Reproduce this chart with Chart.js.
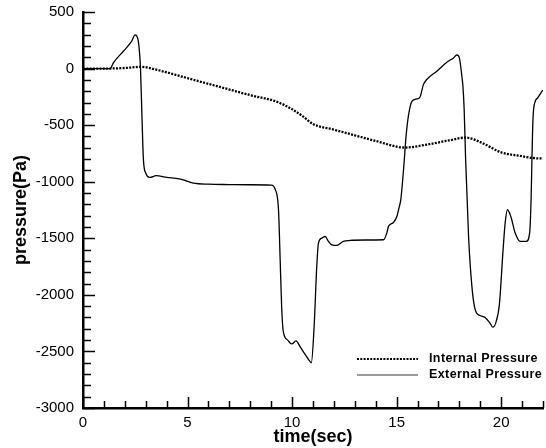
<!DOCTYPE html>
<html>
<head>
<meta charset="utf-8">
<script src="https://cdn.jsdelivr.net/npm/chart.js@4.4.1/dist/chart.umd.min.js"></script>
<style>
html, body { margin: 0; padding: 0; background: #fff; }
#wrap { width: 546px; height: 448px; }
</style>
</head>
<body>
<div id="wrap"><canvas id="chart1" width="546" height="448"></canvas></div>
<script>
// pressure traces (time in sec, pressure in Pa)
var extTime = [0, 1.3, 1.45, 1.93, 2.33, 2.49, 2.62, 2.7, 2.75, 2.81, 2.89, 3.0, 3.2, 3.5, 4.0, 4.6, 4.9, 5.28, 6.0, 7.0, 8.0, 9.0,
  9.2, 9.35, 9.43, 9.5, 9.58, 9.78, 9.98, 10.19, 10.38, 10.6, 10.86, 10.92, 11.05, 11.18, 11.26, 11.42, 11.58, 11.74, 11.9, 12.14,
  12.45, 12.78, 13.5, 14.37, 14.53, 14.61, 14.85, 15.01, 15.13, 15.2, 15.33, 15.45, 15.56, 15.73, 15.97, 16.12, 16.28, 16.44, 16.92,
  17.4, 17.72, 17.88, 18.0, 18.12, 18.17, 18.23, 18.3, 18.44, 18.6, 18.76, 18.99, 19.23, 19.47, 19.6, 19.76, 19.92, 20.08, 20.19,
  20.3, 20.46, 20.67, 20.91, 21.2, 21.36, 21.42, 21.52, 21.63, 21.74, 21.95, 22.0];
var extPressure = [0, 0, 50, 153, 242, 298, 265, 150, 0, -363, -805, -923, -962, -947, -962, -975, -990, -1012, -1022, -1025, -1027, -1030,
  -1071, -1248, -1690, -2103, -2325, -2398, -2434, -2407, -2457, -2520, -2590, -2600, -2295, -1749, -1543, -1499, -1484, -1528, -1558, -1563,
  -1528, -1519, -1515, -1513, -1454, -1395, -1360, -1307, -1218, -1159, -894, -599, -422, -289, -268, -251, -142, -97, -24,
  56, 94, 120, 94, -68, -156, -363, -805, -1484, -1927, -2133, -2183, -2201, -2251, -2286, -2236, -2074, -1631, -1366,
  -1248, -1307, -1454, -1528, -1528, -1454, -1219, -451, -289, -260, -201, -190];

var intTime = [0, 1.0, 2.0, 2.8, 3.5, 5.0, 6.5, 8.0, 9.3, 10.0, 10.5, 11.0, 12.0, 13.0, 14.0, 15.4, 16.5, 17.5, 18.3, 19.0, 20.0, 21.0, 21.6, 22.0];
var intPressure = [0, 0, 5, 15, -10, -85, -160, -235, -295, -360, -420, -490, -540, -590, -640, -698, -670, -635, -610, -650, -740, -775, -792, -795];

var xTicks = [0, 5, 10, 15, 20];
var seriesNames = ["Internal Pressure", "External Pressure"];

function toPoints(xs, ys) {
  var pts = [];
  for (var i = 0; i < xs.length; i++) pts.push({x: xs[i], y: ys[i]});
  return pts;
}

// inward tick marks (major + minor) and the in-plot legend
var decor = {
  id: 'decor',
  afterDraw: function(chart) {
    var ctx = chart.ctx;
    var a = chart.chartArea;
    var xs = chart.scales.x, ys = chart.scales.y;
    ctx.save();
    ctx.strokeStyle = '#000';
    ctx.lineWidth = 1.5;
    ctx.beginPath();
    for (var v = -3000; v <= 500; v += 100) {
      var py = Math.round(ys.getPixelForValue(v)) + 0.5;
      var len = (v % 500 === 0) ? 12 : 8;
      ctx.moveTo(a.left, py);
      ctx.lineTo(a.left + len, py);
    }
    for (var t = 0; t <= 22; t += 1) {
      var px = Math.round(xs.getPixelForValue(t)) + 0.5;
      var l2 = (t % 5 === 0) ? 11 : 7;
      ctx.moveTo(px, a.bottom);
      ctx.lineTo(px, a.bottom - l2);
    }
    ctx.stroke();

    // legend
    var lx = a.left + 274, ly = a.bottom - 49;
    ctx.font = 'bold 12.5px "Liberation Sans", Arial, sans-serif';
    ctx.fillStyle = '#000';
    ctx.textBaseline = 'middle';
    ctx.lineWidth = 2.2;
    ctx.setLineDash([2, 1.3]);
    ctx.beginPath();
    ctx.moveTo(lx, ly);
    ctx.lineTo(lx + 61, ly);
    ctx.stroke();
    ctx.setLineDash([]);
    ctx.strokeStyle = '#777';
    ctx.lineWidth = 1.3;
    ctx.beginPath();
    ctx.moveTo(lx, ly + 16);
    ctx.lineTo(lx + 61, ly + 16);
    ctx.stroke();
    if ('letterSpacing' in ctx) ctx.letterSpacing = '0.4px';
    ctx.fillText(seriesNames[0], lx + 72, ly);
    ctx.fillText(seriesNames[1], lx + 72, ly + 16);
    ctx.restore();
  }
};

var canvasElement = document.getElementById('chart1');

var config = {
  type: 'line',
  data: {
    datasets: [
      {
        label: seriesNames[0],
        data: toPoints(intTime, intPressure),
        borderColor: '#000',
        borderWidth: 2.3,
        borderDash: [2, 1.3],
        pointRadius: 0,
        cubicInterpolationMode: 'monotone',
        fill: false
      },
      {
        label: seriesNames[1],
        data: toPoints(extTime, extPressure),
        borderColor: '#000',
        borderWidth: 1.3,
        pointRadius: 0,
        cubicInterpolationMode: 'monotone',
        fill: false
      }
    ]
  },
  options: {
    responsive: false,
    animation: false,
    layout: { padding: { top: 12, right: 3, left: 0, bottom: 0 } },
    plugins: { legend: { display: false }, tooltip: { enabled: false } },
    scales: {
      x: {
        type: 'linear',
        min: 0,
        max: 22,
        afterBuildTicks: function(scale) {
          scale.ticks = xTicks.map(function(v) { return {value: v}; });
        },
        afterFit: function(scale) { scale.height = 40; },
        grid: { display: false },
        border: { display: true, color: '#000', width: 2.5 },
        ticks: { color: '#000', font: { family: '"Liberation Sans", Arial', size: 15 }, padding: -2, maxRotation: 0,
                 callback: function(v) { return String(v); } },
        title: { display: true, text: 'time(sec)', color: '#000', padding: 0,
                 font: { family: '"Liberation Sans", Arial', size: 18, weight: 'bold' } }
      },
      y: {
        min: -3000,
        max: 500,
        ticks: { stepSize: 500, color: '#000', font: { family: '"Liberation Sans", Arial', size: 15 }, padding: 1,
                 callback: function(v) { return String(v); } },
        afterFit: function(scale) { scale.width = 83; },
        grid: { display: false },
        border: { display: true, color: '#000', width: 2.5 },
        title: { display: true, text: 'pressure(Pa)', color: '#000', padding: { top: 10, bottom: 0 },
                 font: { family: '"Liberation Sans", Arial', size: 18, weight: 'bold' } }
      }
    }
  },
  plugins: [decor]
};

var myChart = new Chart(canvasElement, config);
</script>
</body>
</html>
